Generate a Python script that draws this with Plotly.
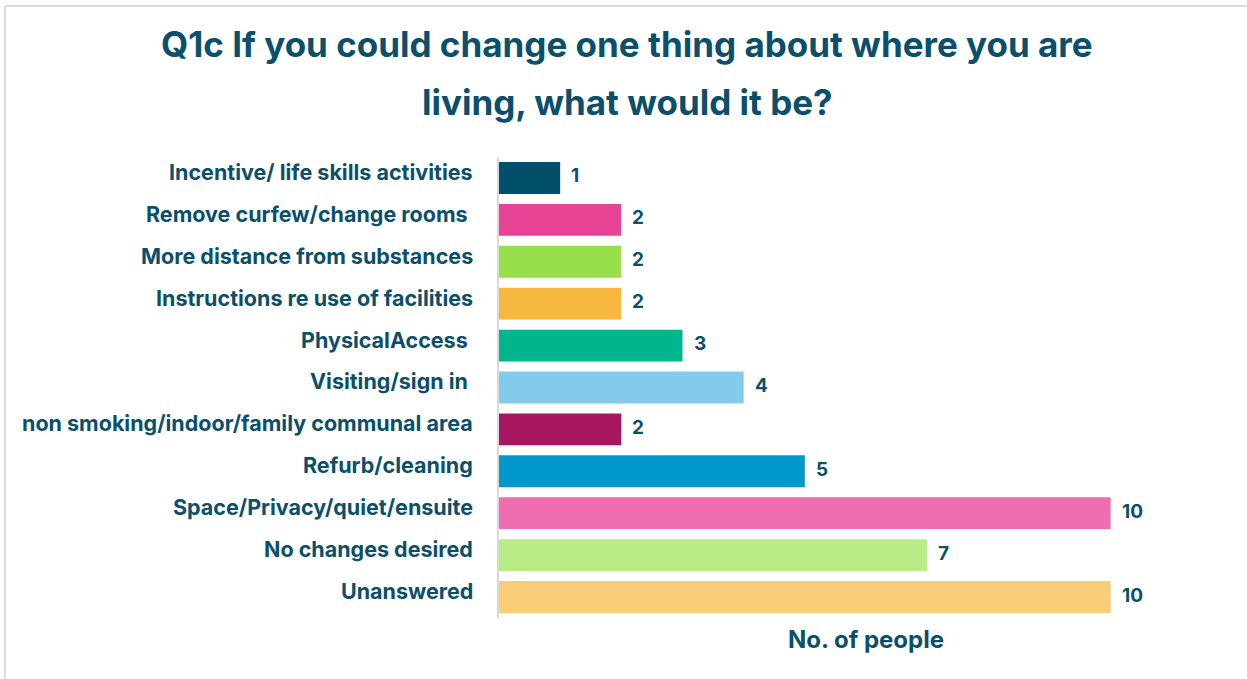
import plotly.graph_objects as go

categories = [
    "Incentive/ life skills activities",
    "Remove curfew/change rooms\u00a0",
    "More distance from substances",
    "Instructions re use of facilities",
    "PhysicalAccess\u00a0",
    "Visiting/sign in\u00a0",
    "non smoking/indoor/family communal area",
    "Refurb/cleaning",
    "Space/Privacy/quiet/ensuite",
    "No changes desired",
    "Unanswered",
]
counts = [1, 2, 2, 2, 3, 4, 2, 5, 10, 7, 10]
bar_colors = [
    "#00506B", "#E84496", "#98E04B", "#F8B83F", "#00B48B", "#84CBEB",
    "#A6175F", "#0098CC", "#EF6EAF", "#B9EB86", "#FACD78",
]

TEXT = "#0B4F6B"
FONT = "Inter"

W, H = 1247, 679
ML, MR, MT, MB = 499, 14, 157, 61
PW, PH = W - ML - MR, H - MT - MB


def px_x(px):
    return (px - ML) / PW


def px_y(py):
    return 1 - (py - MT) / PH


fig = go.Figure(
    go.Bar(
        x=counts,
        y=categories,
        orientation="h",
        marker=dict(color=bar_colors, line=dict(width=0)),
        width=0.76,
        hoverinfo="x+y",
    )
)

annotations = []
for cat, val in zip(categories, counts):
    annotations.append(dict(
        x=0, y=cat, xref="x", yref="y", text=f"<b>{cat}</b>",
        xanchor="right", yanchor="middle", xshift=-24, yshift=6,
        showarrow=False, font=dict(family=FONT, size=21.5, color=TEXT),
    ))
    annotations.append(dict(
        x=val, y=cat, xref="x", yref="y", text=f"<b>{val}</b>",
        xanchor="left", yanchor="middle", xshift=9, yshift=2,
        showarrow=False, font=dict(family=FONT, size=19, color=TEXT),
    ))

annotations += [
    dict(x=px_x(627), y=px_y(44), xref="paper", yref="paper",
         text="<b>Q1c If you could change one thing about where you are</b>",
         xanchor="center", yanchor="middle", showarrow=False,
         font=dict(family=FONT, size=35, color=TEXT)),
    dict(x=px_x(627), y=px_y(102), xref="paper", yref="paper",
         text="<b>living, what would it be?</b>",
         xanchor="center", yanchor="middle", showarrow=False,
         font=dict(family=FONT, size=35, color=TEXT)),
    dict(x=px_x(866), y=px_y(639), xref="paper", yref="paper",
         text="<b>No. of people</b>",
         xanchor="center", yanchor="middle", showarrow=False,
         font=dict(family=FONT, size=24, color=TEXT)),
]

shapes = [
    dict(type="line", xref="paper", yref="paper",
         x0=px_x(5), x1=px_x(5), y0=px_y(6), y1=px_y(679),
         line=dict(color="#DCDCDC", width=2)),
    dict(type="line", xref="paper", yref="paper",
         x0=px_x(5), x1=px_x(1247), y0=px_y(6), y1=px_y(6),
         line=dict(color="#DCDCDC", width=2)),
]

fig.update_layout(
    width=W, height=H,
    margin=dict(l=ML, r=MR, t=MT, b=MB, pad=0),
    paper_bgcolor="white", plot_bgcolor="white",
    showlegend=False,
    bargap=0.24,
    annotations=annotations,
    shapes=shapes,
    xaxis=dict(range=[0, 12], showgrid=False, zeroline=False,
               showticklabels=False, ticks="", showline=False),
    yaxis=dict(autorange="reversed", showgrid=False, zeroline=False,
               showticklabels=False, ticks="", showline=True,
               linecolor="#D9D9D9", linewidth=1.5),
)

fig.write_html("out.html")
